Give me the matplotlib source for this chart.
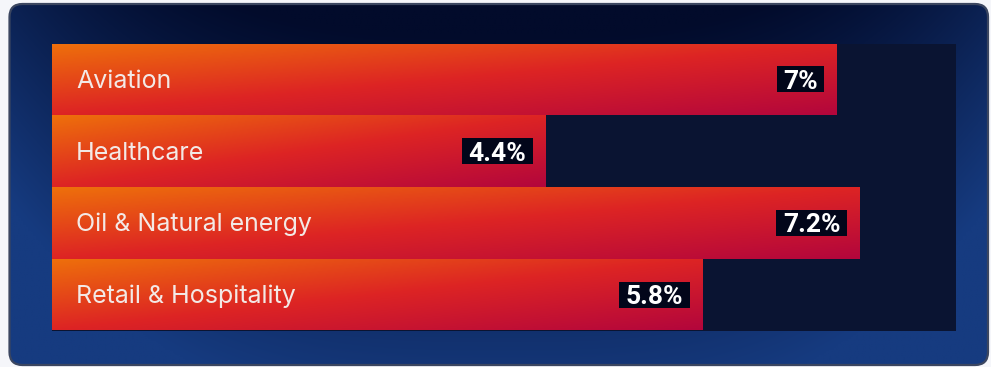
import numpy as np
import matplotlib
matplotlib.use("Agg")
import matplotlib.pyplot as plt
from matplotlib.patches import FancyBboxPatch, Rectangle
from matplotlib.colors import LinearSegmentedColormap, to_rgb
from matplotlib import transforms

# ---- data ----
categories = ["Aviation", "Healthcare", "Oil & Natural energy", "Retail & Hospitality"]
values = [7, 4.4, 7.2, 5.8]
value_labels = [f"{v:g}%" for v in values]

W, H = 991, 367
DPI = 100
fig = plt.figure(figsize=(W / DPI, H / DPI), dpi=DPI, facecolor="#f5f6fa")

# ---- background panel (pixel coordinates) ----
bg = fig.add_axes([0, 0, 1, 1])
bg.set_xlim(0, W)
bg.set_ylim(H, 0)
bg.axis("off")

px0, px1, py0, py1 = 9.5, 988, 4, 365
panel = FancyBboxPatch((px0, py0), px1 - px0, py1 - py0,
                       boxstyle="round,pad=0,rounding_size=13",
                       facecolor="none", edgecolor="#3b4660", linewidth=1.6, zorder=3)
bg.add_patch(panel)

gx = np.linspace(0, 1, 400)
gy = np.linspace(0, 1, 200)
X, Y = np.meshgrid(gx, gy)
hz = np.abs(X - 0.5) * 2
t = np.clip(0.95 * Y + 0.55 * hz ** 3 - 0.08, 0, 1)
dark = np.array(to_rgb("#020b2b"))
blue = np.array(to_rgb("#163b80"))
img = dark[None, None, :] * (1 - t[..., None]) + blue[None, None, :] * t[..., None]
im = bg.imshow(img, extent=(px0, px1, py1, py0), aspect="auto", zorder=1,
               interpolation="bilinear")
clip = FancyBboxPatch((px0, py0), px1 - px0, py1 - py0,
                      boxstyle="round,pad=0,rounding_size=13",
                      facecolor="none", edgecolor="none", transform=bg.transData)
im.set_clip_path(clip)

# ---- bar chart ----
left, right, top, bottom = 51.7, 956, 43.5, 330.5
PX_PER_UNIT = 112.1
XMAX = (right - left) / PX_PER_UNIT
ax = fig.add_axes([left / W, (H - bottom) / H, (right - left) / W, (bottom - top) / H])
ax.set_facecolor("#0a1432")
ax.set_xlim(0, XMAX)
n = len(categories)
ax.set_ylim(n - 0.5, -0.5)
for s in ax.spines.values():
    s.set_visible(False)
ax.set_xticks([])
ax.set_yticks([])

cmap = LinearSegmentedColormap.from_list(
    "bar", ["#ee700b", "#dd2424", "#b3063c"])
row_px = (bottom - top) / n

bars = ax.barh(range(n), values, height=1.0, color="none", edgecolor="none")
for i, (v, bar) in enumerate(zip(values, bars)):
    wpx = int(max(v * PX_PER_UNIT, 2))
    hpx = int(row_px)
    xx, yy = np.meshgrid(np.linspace(0, 1, wpx), np.linspace(0, 1, hpx))
    grad = 0.5 * xx + 0.5 * yy
    gi = ax.imshow(cmap(grad), extent=(0, v, i + 0.5, i - 0.5), aspect="auto",
                   interpolation="bilinear", zorder=2)
    gi.set_clip_path(bar)

# category labels
lab_tr = transforms.offset_copy(ax.transData, fig=fig, x=24.5, y=-8.5, units="dots")
for i, c in enumerate(categories):
    ax.text(0, i, c, transform=lab_tr, ha="left", va="baseline",
            fontsize=18, family=["Inter", "DejaVu Sans"], color="#f3e9e6", zorder=5)

# value labels with dark boxes
val_tr = transforms.offset_copy(ax.transData, fig=fig, x=-18.5, y=-9.5, units="dots")
texts = []
for i, (v, s) in enumerate(zip(values, value_labels)):
    tx = ax.text(v, i, s, transform=val_tr, ha="right", va="baseline",
                 fontsize=19, fontweight="bold", family=["Roboto", "DejaVu Sans"],
                 color="white", zorder=6)
    texts.append(tx)

fig.canvas.draw()
renderer = fig.canvas.get_renderer()
for i, tx in enumerate(texts):
    ext = tx.get_window_extent(renderer)
    cy = ax.transData.transform((0, i))[1]
    box = Rectangle((ext.x0 - 6.5, cy - 13), ext.width + 13, 26,
                    transform=transforms.IdentityTransform(),
                    facecolor="#02061a", edgecolor="none", zorder=5.5)
    ax.add_artist(box)

fig.savefig("out.png", dpi=DPI, facecolor=fig.get_facecolor())
